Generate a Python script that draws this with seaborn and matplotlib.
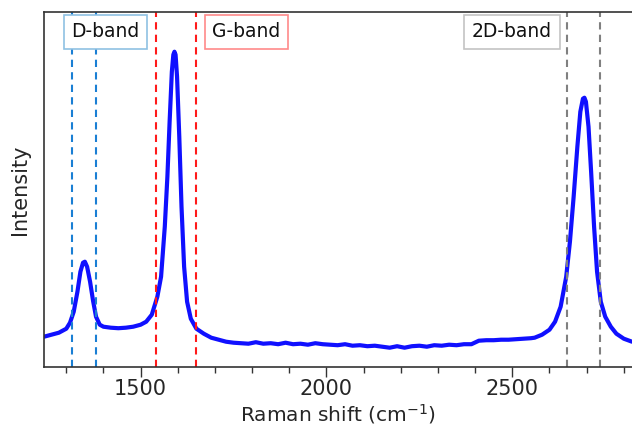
import matplotlib
matplotlib.use("Agg")
import matplotlib.pyplot as plt
from matplotlib.ticker import MultipleLocator
import seaborn as sns
import numpy as np
import pandas as pd

# Raman spectrum (a.u.)
shift = [1240, 1260, 1280, 1300, 1310, 1320, 1330, 1338, 1345, 1350, 1356, 1364, 1372, 1380, 1390,
         1400, 1420, 1440, 1460, 1480, 1500, 1515, 1530, 1545, 1555, 1565, 1572, 1578, 1584, 1588,
         1591, 1594, 1598, 1604, 1610, 1617, 1625, 1635, 1650, 1670, 1690, 1710, 1730, 1750, 1770,
         1790, 1810, 1830, 1850, 1870, 1890, 1910, 1930, 1950, 1970, 1990, 2010, 2030, 2050, 2070,
         2090, 2110, 2130, 2150, 2170, 2190, 2210, 2230, 2250, 2270, 2290, 2310, 2330, 2350, 2370,
         2390, 2410, 2430, 2450, 2470, 2490, 2510, 2530, 2550, 2560, 2580, 2600, 2615, 2630, 2645,
         2655, 2665, 2675, 2683, 2690, 2694, 2698, 2705, 2712, 2720, 2728, 2738, 2750, 2765, 2780,
         2800, 2822]
intensity = [300, 320, 340, 380, 440, 550, 750, 950, 1040, 1050, 1000, 850, 660, 500, 420,
             400, 390, 385, 390, 400, 420, 450, 520, 700, 900, 1400, 1900, 2450, 2950, 3120,
             3150, 3120, 2900, 2300, 1600, 1000, 650, 480, 380, 330, 290, 270, 250, 240, 235,
             230, 245, 230, 235, 225, 240, 225, 230, 220, 235, 225, 220, 215, 225, 210,
             215, 205, 210, 200, 190, 205, 190, 205, 210, 200, 215, 210, 220, 215, 225,
             225, 260, 265, 265, 270, 270, 275, 280, 285, 290, 320, 370, 450, 600, 900,
             1250, 1700, 2200, 2550, 2680, 2690, 2650, 2400, 1950, 1400, 950, 650, 500, 400, 330,
             280, 250]

# band limits (cm-1)
bands = ["D-band", "G-band", "2D-band"]
band_lo = [1315, 1542, 2647]
band_hi = [1380, 1650, 2735]
band_line_colors = ["#1a7fd4", "#ff1a1a", "#808080"]
band_box_colors = ["#8fc1e3", "#ff8a8a", "#c4c4c4"]
label_x = [0.104, 0.344, 0.796]

df = pd.DataFrame({"shift": shift, "intensity": intensity})

sns.set_style("ticks")
plt.rcParams["font.family"] = ["DejaVu Sans"]

fig = plt.figure(figsize=(6.32, 4.29), dpi=100)
ax = fig.add_axes([0.0696, 0.1452, 0.9304, 0.8268])

sns.lineplot(data=df, x="shift", y="intensity", ax=ax, color="#1010ff", linewidth=3)

for lo, hi, c in zip(band_lo, band_hi, band_line_colors):
    ax.axvline(lo, color=c, linestyle="--", linewidth=1.5, dashes=(3.5, 2.5))
    ax.axvline(hi, color=c, linestyle="--", linewidth=1.5, dashes=(3.5, 2.5))

for name, xf, ec in zip(bands, label_x, band_box_colors):
    ax.text(xf, 0.944, name, transform=ax.transAxes, ha="center", va="center",
            fontsize=13.5, color="#111111",
            bbox=dict(boxstyle="square,pad=0.4", facecolor="white", edgecolor=ec, linewidth=1.2))

ax.set_xlim(1240, 2822)
ax.set_ylim(0, 3547)
ax.set_yticks([])
ax.xaxis.set_major_locator(MultipleLocator(500))
ax.xaxis.set_minor_locator(MultipleLocator(100))
ax.tick_params(axis="x", which="major", length=7, width=1, pad=2, labelsize=15, color="#333333")
ax.tick_params(axis="x", which="minor", length=4, width=1, color="#333333")
ax.set_xlabel("Raman shift (cm$^{-1}$)", fontsize=14.5, labelpad=2)
ax.set_ylabel("Intensity", fontsize=15, labelpad=10)
for s in ["left", "bottom", "top"]:
    ax.spines[s].set_color("#333333")
    ax.spines[s].set_linewidth(1.2)
ax.spines["right"].set_visible(False)

fig.savefig("out.png", dpi=100)
